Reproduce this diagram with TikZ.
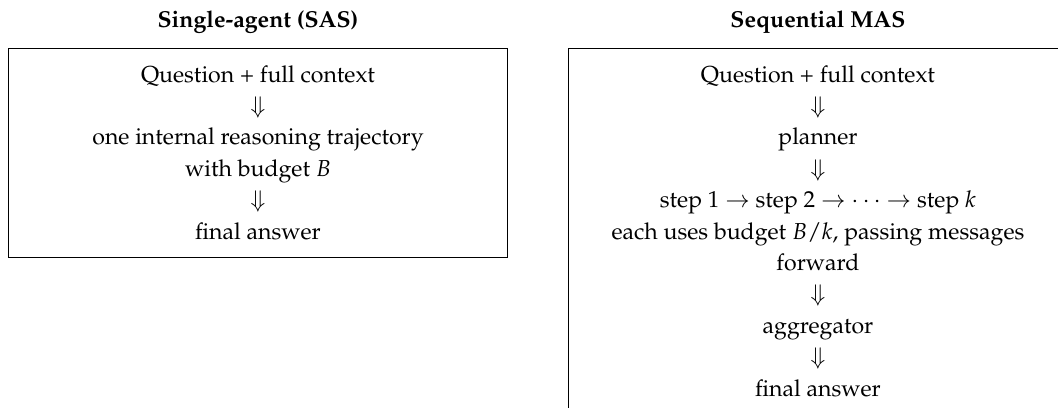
\documentclass[tikz,border=0pt]{standalone}
\usepackage[T1]{fontenc}
\usepackage{mathpazo}
\usetikzlibrary{positioning}

\begin{document}
\begin{tikzpicture}[x=1pt,y=1pt,
    flowbox/.style={draw, line width=0.4pt, align=flush center, text width=204pt,
        inner xsep=6pt, inner ysep=7.5pt, anchor=north west,
        font=\fontsize{10pt}{13.6pt}\selectfont},
    boxtitle/.style={font=\fontsize{10pt}{12pt}\selectfont\bfseries}]
    % Variables for the page size
    \def\picwidth{458}
    \def\picheight{176.6}
    \def\boxtop{156}

    % Fix the page
    \useasboundingbox (0,0) rectangle (\picwidth,\picheight);

    % Single-agent box
    \node[flowbox] (sasbox) at (3.5,\boxtop) {Question + full context\\
        $\Downarrow$\\
        one internal reasoning trajectory\\
        with budget $B$\\
        $\Downarrow$\\
        final answer};

    % Sequential box
    \node[flowbox] (masbox) at (245.9,\boxtop) {Question + full context\\
        $\Downarrow$\\
        planner\\
        $\Downarrow$\\
        step 1 $\rightarrow$ step 2 $\rightarrow$ $\cdots$ $\rightarrow$ step $k$\\
        each uses budget $B/k$, passing messages forward\\
        $\Downarrow$\\
        aggregator\\
        $\Downarrow$\\
        final answer};

    % Titles over the boxes
    \node[boxtitle, above=2.5pt of sasbox] (sastitle) {Single-agent (SAS)};
    \node[boxtitle, above=2.5pt of masbox] (mastitle) {Sequential MAS};

\end{tikzpicture}
\end{document}
